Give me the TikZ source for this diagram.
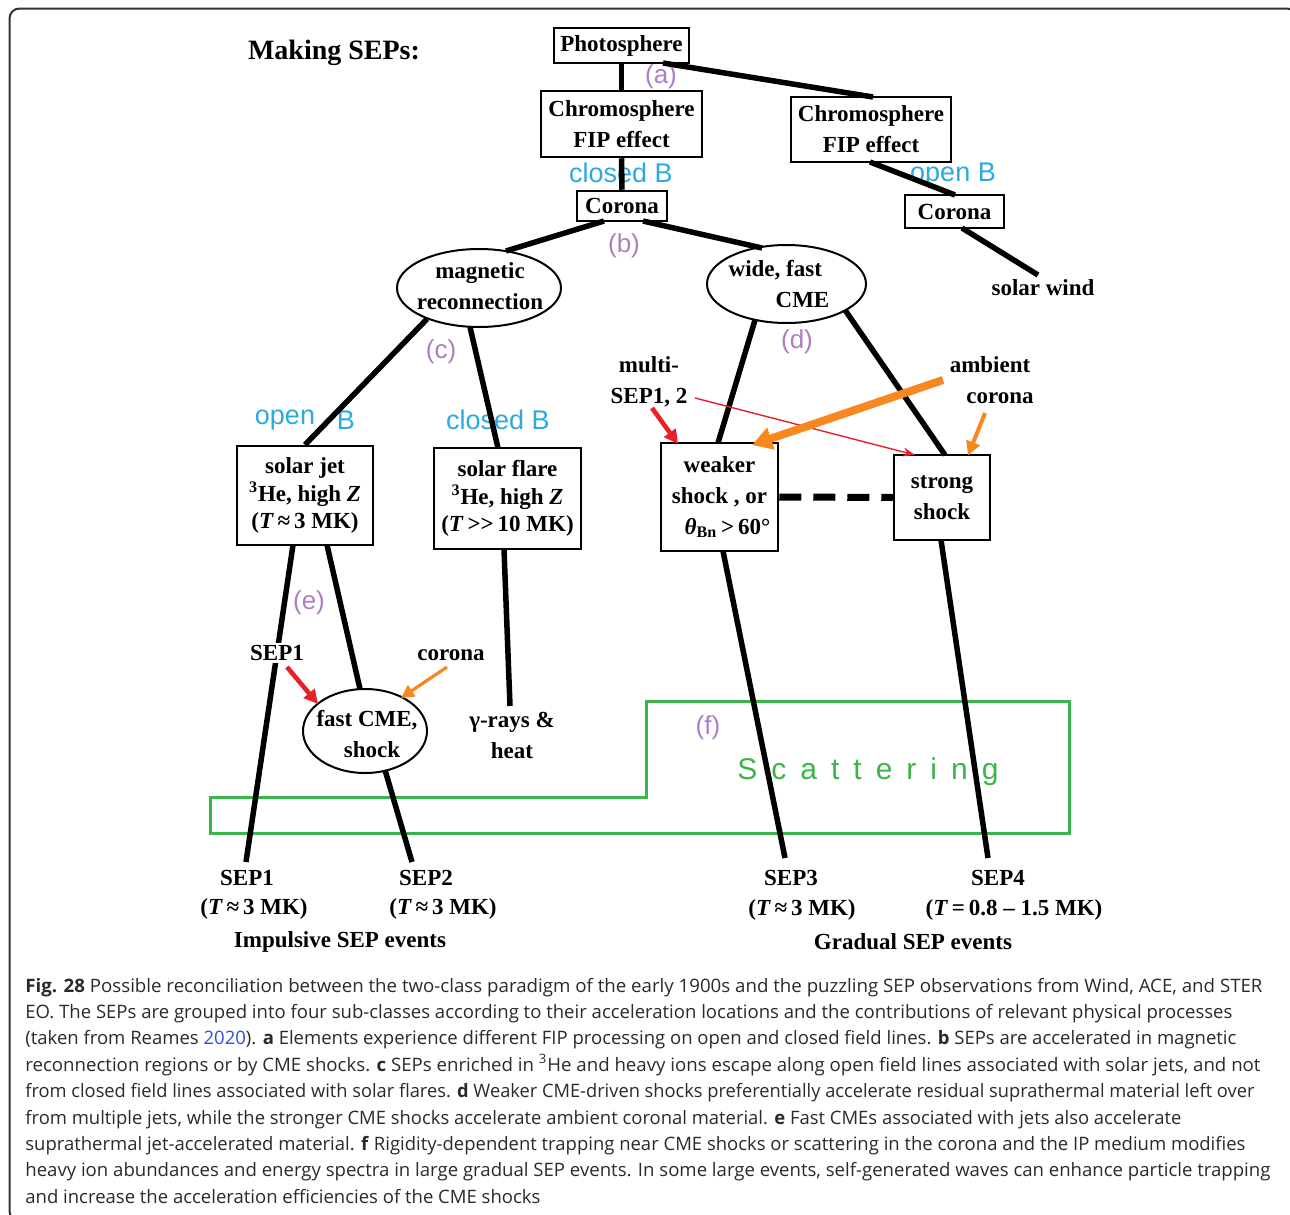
\documentclass[tikz,border=0pt]{standalone}
\usepackage{fontspec}
\usepackage{graphicx}
\setmainfont{Liberation Serif}
\newfontfamily\lsans{Liberation Sans}
\newfontfamily\capfont{Open Sans}
\usetikzlibrary{shapes.geometric,arrows.meta,calc}
\definecolor{bluec}{HTML}{2AAAE0}
\definecolor{purc}{HTML}{B07CC6}
\definecolor{greenc}{HTML}{3BB54A}
\definecolor{redc}{HTML}{E8202A}
\definecolor{orc}{HTML}{F7871E}
\definecolor{linkc}{HTML}{2F4FE0}
\definecolor{capc}{HTML}{2A2A2A}
\newcommand{\capl}[4]{\node[capt] (#1) at (25,#2) {\resizebox{#3pt}{\height}{#4}};}
\begin{document}
\begin{tikzpicture}[x=0.5pt,y=-0.5pt,
  box/.style={draw, line width=1.25pt, inner sep=0pt, align=center, fill=white, font=\bfseries\fontsize{11.5}{15.5}\selectfont},
  box3/.style={box, font=\bfseries\fontsize{11.5}{13.75}\selectfont},
  ell/.style={draw, ellipse, line width=1pt, inner sep=0pt, fill=white},
  txt/.style={inner sep=0pt, align=center, font=\bfseries\fontsize{11.5}{15.5}\selectfont},
  conn/.style={line width=2.75pt},
  dashconn/.style={line width=3.5pt, dash pattern=on 11pt off 6pt},
  blu/.style={inner sep=0pt, text=bluec, font=\lsans\fontsize{13.5}{16}\selectfont},
  pur/.style={inner sep=0pt, text=purc, font=\lsans\fontsize{13}{16}\selectfont},
  redthin/.style={draw=redc, line width=0.7pt, -{Stealth[length=6pt,width=4.5pt]}},
  redthick/.style={draw=redc, line width=2.3pt, -{Triangle[length=7pt,width=7pt]}},
  orbig/.style={draw=orc, line width=4pt, -{Triangle[length=10pt,width=11pt]}},
  orsmall/.style={draw=orc, line width=2pt, -{Triangle[length=7pt,width=7pt]}},
  orthin/.style={draw=orc, line width=1.6pt, -{Triangle[length=6.5pt,width=6.5pt]}},
  capt/.style={anchor=base west, inner sep=0pt, text=capc, font=\capfont\fontsize{9.25}{11}\selectfont}
]
\useasboundingbox (0,0) rectangle (1290,1215);
\fill[white] (0,0) rectangle (1290,1215);
\begin{scope}
\clip (0,0) rectangle (1290,1215);
\draw[line width=1pt, black!80] (9.5,8.5) [rounded corners=5pt] rectangle (1297,1221);
\end{scope}

% scattering region
\draw[greenc, line width=1.5pt] (210,797) -- (646,797) -- (646,701) -- (1069,701) -- (1069,833) -- (210,833) -- cycle;
\node[anchor=west, inner sep=0pt, text=greenc, font=\lsans\fontsize{15}{18}\selectfont] (scat) at (737,772)
  {S\kern7pt c\kern7pt a\kern7pt t\kern7pt t\kern7pt e\kern7pt r\kern7pt i\kern7pt n\kern7pt g};

% title
\node[inner sep=0pt, font=\bfseries\fontsize{14}{16}\selectfont] (title) at (334,53) {Making SEPs:};

% blue labels
\node[blu] (clB1) at (621,173) {closed B};
\node[blu] (opB1) at (953,175) {open B};
\node[blu] (opB2a) at (285,420) {open};
\node[blu] (opB2b) at (346,420) {B};
\node[blu] (clB2) at (498,420) {closed B};

% purple labels
\node[pur] (la) at (661,77) {(a)};
\node[pur] (lb) at (624,246) {(b)};
\node[pur] (lc) at (441,352) {(c)};
\node[pur] (ld) at (797,342) {(d)};
\node[pur] (le) at (309,603) {(e)};
\node[pur] (lf) at (708,728) {(f)};

% nodes
\node[box, minimum width=67.5pt, minimum height=17.5pt] (photo) at (621.5,45.5) {Photosphere};
\node[box, minimum width=80.5pt, minimum height=33pt] (chromoL) at (621.5,124) {Chromosphere\\FIP effect};
\node[box, minimum width=80pt, minimum height=32.5pt] (chromoR) at (871,129.5) {Chromosphere\\FIP effect};
\node[box, minimum width=45pt, minimum height=15pt] (coronaL) at (622,206) {Corona};
\node[box, minimum width=49.5pt, minimum height=16.5pt] (coronaR) at (954.5,211.5) {Corona};
\node[ell, minimum width=82pt, minimum height=39pt] (magrec) at (479,288) {};
\node[txt] (magtxt) at (480,286) {magnetic\\reconnection};
\node[ell, minimum width=79.5pt, minimum height=39pt] (cme) at (786.5,284) {};
\node[txt, align=left] (cmetxt) at (779,284) {wide, fast\\\hspace*{23.5pt}CME};
\node[box3, minimum width=68pt, minimum height=49.5pt] (jet) at (305,495.5) {solar jet\\\textsuperscript{3}He, high \textit{Z}\\(\textit{T}\,≈\,3 MK)};
\node[box3, minimum width=73.5pt, minimum height=50.5pt] (flare) at (507.5,498.5) {solar flare\\\textsuperscript{3}He, high \textit{Z}\\(\textit{T}\,>\kern0pt>\,10 MK)};
\node[box, minimum width=58.5pt, minimum height=54pt] (weak) at (719.5,497) {weaker\\shock , or\\\hspace*{8pt}\textit{θ}\textsubscript{Bn}\,>\,60°};
\node[box, minimum width=48pt, minimum height=42.5pt] (strong) at (942,497.5) {strong\\shock};
\node[ell, minimum width=62pt, minimum height=42pt] (fastcme) at (365,731) {};
\node[txt] (fasttxt) at (367,734) {fast CME,\\\hspace*{5pt}shock};
\node[txt] (gamma) at (512,735) {γ-rays \&\\heat};
\node[txt] (sw) at (1043,288) {solar wind};
\node[txt] (multi) at (649,382) {multi-\\SEP1, 2};
\node[txt] (ambient) at (990,380) {ambient\\\hspace*{10pt}corona};
\node[txt] (coronatxt) at (451,655) {corona};

% bottom labels
\node[txt] (sep1) at (247,878) {SEP1};
\node[txt] (sep1t) at (254,909) {(\textit{T}\,≈\,3 MK)};
\node[txt] (sep2) at (426,878) {SEP2};
\node[txt] (sep2t) at (443,909) {(\textit{T}\,≈\,3 MK)};
\node[txt] (imp) at (340,942) {Impulsive SEP events};
\node[txt] (sep3) at (791,878) {SEP3};
\node[txt] (sep3t) at (802,910) {(\textit{T}\,≈\,3 MK)};
\node[txt] (sep4) at (998,878) {SEP4};
\node[txt] (sep4t) at (1014,910) {(\textit{T}\,=\,0.8 – 1.5 MK)};
\node[txt] (grad) at (913,942) {Gradual SEP events};

% connectors
\draw[conn] (photo.south) -- (chromoL.north);
\draw[conn] ($(photo)+(41.5,17.5)$) -- ($(chromoR)+(2,-32.5)$);
\draw[conn] (chromoL.south) -- (coronaL.north);
\draw[conn] ($(chromoR)+(-1,32.5)$) -- ($(coronaR)+(0.5,-16.5)$);
\draw[conn] ($(coronaR)+(7.5,16.5)$) -- ($(sw)+(-5,-13)$);
\draw[conn] ($(coronaL)+(-18,15)$) -- ($(magrec)+(27,-37)$);
\draw[conn] ($(coronaL)+(21,15)$) -- ($(cme)+(-24.5,-36)$);
\draw[conn] ($(magrec)+(-52,31)$) -- (jet.north);
\draw[conn] ($(magrec)+(-9,39)$) -- ($(flare)+(-9.5,-50.5)$);
\draw[conn] ($(cme)+(-31.5,36)$) -- ($(weak)+(-1.5,-54)$);
\draw[conn] ($(cme)+(58.5,26)$) -- ($(strong)+(3,-42.5)$);
\draw[dashconn] (weak.east) -- (strong.west);
\draw[conn] ($(jet)+(-12,49.5)$) -- ($(sep1)+(-1,-16)$);
\draw[conn] ($(jet)+(22,49.5)$) -- ($(fastcme)+(-5,-42)$);
\draw[conn] ($(fastcme)+(20,39)$) -- ($(sep2)+(-14,-16)$);
\draw[conn] ($(flare)+(-3.5,50.5)$) -- ($(gamma)+(-2,-29)$);
\draw[conn] ($(weak)+(3.5,54)$) -- ($(sep3)+(-6,-20)$);
\draw[conn] ($(strong)+(-1,42.5)$) -- ($(sep4)+(-10,-20)$);

\node[txt, fill=white, inner sep=1pt] (sep1mid) at (277,653) {SEP1};

% arrows
\draw[redthin] ($(multi)+(46,16)$) -- ($(strong)+(-27,-42.5)$);
\draw[redthick] ($(multi)+(3,26)$) -- ($(weak)+(-41.5,-53)$);
\draw[redthick] ($(sep1mid)+(10,14)$) -- ($(fastcme)+(-47,-27)$);
\draw[orbig] ($(ambient)+(-47,0)$) -- ($(weak)+(32.5,-52)$);
\draw[orsmall] ($(ambient)+(-5,33)$) -- ($(strong)+(26,-42)$);
\draw[orthin] ($(coronatxt)+(-4,12)$) -- ($(fastcme)+(36,-33)$);

% caption
\capl{cap1}{992}{618.5}{\textbf{Fig. 28} Possible reconciliation between the two-class paradigm of the early 1900s and the puzzling SEP observations from Wind, ACE, and STER}
\capl{cap2}{1018.4}{603.5}{EO. The SEPs are grouped into four sub-classes according to their acceleration locations and the contributions of relevant physical processes}
\capl{cap3}{1044.8}{605.5}{(taken from Reames \textcolor{linkc}{2020}). \textbf{a} Elements experience different FIP processing on open and closed field lines. \textbf{b} SEPs are accelerated in magnetic}
\capl{cap4}{1071.2}{617.5}{reconnection regions or by CME shocks. \textbf{c} SEPs enriched in \textsuperscript{3}He and heavy ions escape along open field lines associated with solar jets, and not}
\capl{cap5}{1097.6}{614.5}{from closed field lines associated with solar flares. \textbf{d} Weaker CME-driven shocks preferentially accelerate residual suprathermal material left over}
\capl{cap6}{1124}{578}{from multiple jets, while the stronger CME shocks accelerate ambient coronal material. \textbf{e} Fast CMEs associated with jets also accelerate}
\capl{cap7}{1150.4}{610}{suprathermal jet-accelerated material. \textbf{f} Rigidity-dependent trapping near CME shocks or scattering in the corona and the IP medium modifies}
\capl{cap8}{1176.8}{622.5}{heavy ion abundances and energy spectra in large gradual SEP events. In some large events, self-generated waves can enhance particle trapping}
\capl{cap9}{1203.2}{257.5}{and increase the acceleration efficiencies of the CME shocks}
\end{tikzpicture}
\end{document}
